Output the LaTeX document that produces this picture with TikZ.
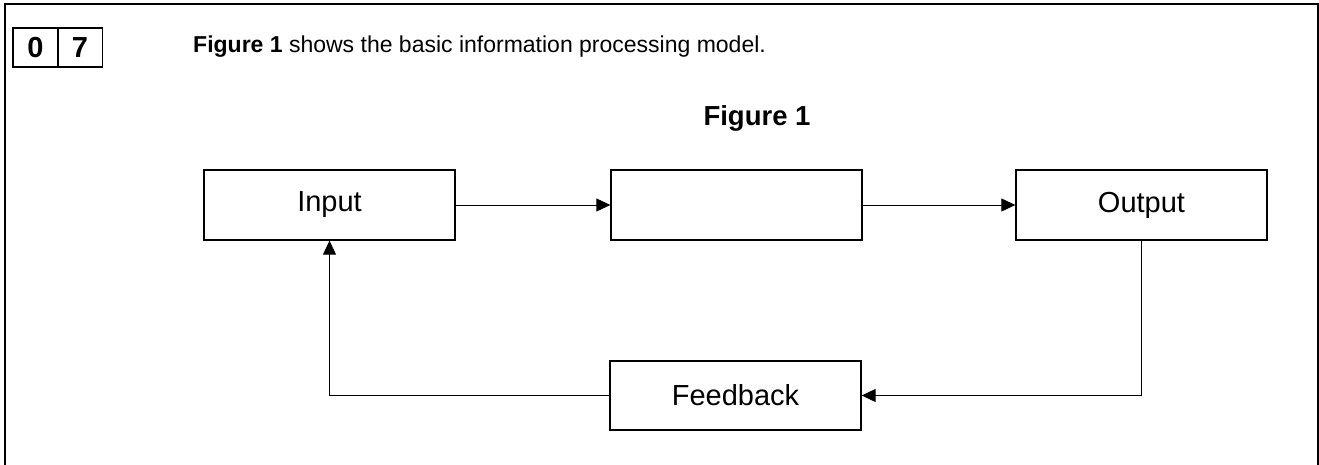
\documentclass[tikz,border=0pt]{standalone}
\usepackage{fontspec}
\setmainfont{Liberation Sans}
\usetikzlibrary{arrows.meta}
\begin{document}
\begin{tikzpicture}[x=1pt,y=-1pt,
  frame/.style={line width=2.2pt},
  blk/.style={draw, line width=1.3pt, minimum width=251pt, minimum height=70pt, inner sep=0pt, font=\fontsize{29}{33}\selectfont},
  numbox/.style={draw, line width=1.5pt, minimum width=45pt, minimum height=39pt, inner sep=0pt, font=\fontsize{29}{33}\selectfont\bfseries},
  conn/.style={line width=0.9pt, -{Triangle[length=14pt,width=13pt]}},
  plain/.style={line width=0.9pt}]
\useasboundingbox (0,0) rectangle (1319,465);
\draw[frame] (5,465) -- (5,4) -- (1318,4) -- (1318,465);
\node[numbox] (n0) at (35.5,47.5) {0};
\node[numbox] (n7) at (80,47.5) {7};
\node[anchor=base west, font=\fontsize{23}{27}\selectfont, inner sep=0pt] (sent) at (193,53) {\textbf{Figure 1} shows the basic information processing model.};
\node[font=\fontsize{27.5}{31}\selectfont\bfseries, inner sep=0pt, anchor=base] (fig) at (757,126) {Figure 1};
\node[blk] (in) at (329.5,205) {Input};
\node[blk] (mid) at (736.5,205) {};
\node[blk] (out) at (1141.5,205) {Output};
\node[blk, minimum height=69pt] (fb) at (735.5,395.5) {Feedback};
\coordinate (c1) at (1141.5,395.5);
\coordinate (c2) at (329.5,395.5);
\draw[conn] (in.east) -- (mid.west);
\draw[conn] (mid.east) -- (out.west);
\draw[conn] (out.south) -- (c1) -- (fb.east);
\draw[conn] (fb.west) -- (c2) -- (in.south);
\end{tikzpicture}
\end{document}
